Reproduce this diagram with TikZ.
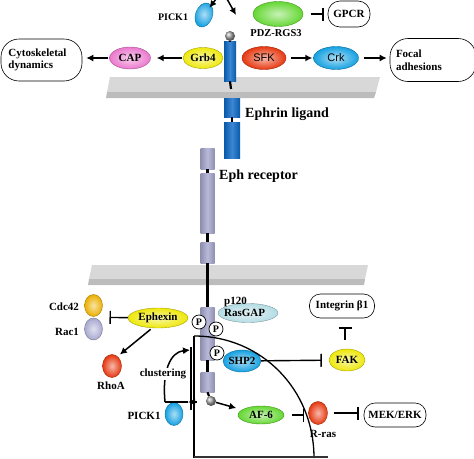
\documentclass[tikz,border=0pt]{standalone}
\usepackage{fontspec}
\setmainfont{Liberation Serif}
\newfontfamily\sansf{Liberation Sans}
\usetikzlibrary{shapes.geometric,arrows.meta,calc}
\definecolor{ligB}{RGB}{10,105,200}
\definecolor{lav}{RGB}{168,168,208}
\definecolor{yel}{RGB}{238,232,10}
\definecolor{pnk}{RGB}{235,120,205}
\definecolor{redp}{RGB}{230,55,15}
\definecolor{cyn}{RGB}{20,160,225}
\definecolor{grn}{RGB}{100,215,50}
\definecolor{rgap}{RGB}{180,220,228}
\definecolor{org}{RGB}{235,175,0}
\definecolor{memL}{RGB}{216,216,216}
\definecolor{memD}{RGB}{188,188,188}
\begin{document}
\begin{tikzpicture}[x=1pt,y=-1pt,
  txt/.style={font=\bfseries\fontsize{11}{12.5}\selectfont, inner sep=0pt},
  big/.style={font=\bfseries\fontsize{14}{16}\selectfont, inner sep=0pt},
  prot/.style={ellipse, inner sep=0pt, draw=#1!70!black, line width=0.4pt, inner color=#1!35!white, outer color=#1, font=\bfseries\fontsize{11}{12}\selectfont},
  sansprot/.style={prot=#1, font=\sansf\fontsize{11}{12}\selectfont},
  cyl/.style={rectangle, inner sep=0pt, left color=#1!85!black, right color=#1!85!black, middle color=#1!80!white},
  rbox/.style={draw, line width=0.6pt, rounded corners=#1, inner sep=0pt, font=\bfseries\fontsize{11}{12.5}\selectfont},
  pc/.style={circle, draw, line width=0.7pt, fill=white, minimum size=14, inner sep=0pt, font=\bfseries\fontsize{10}{10}\selectfont},
  act/.style={-{Latex[length=7pt,width=7pt]}, line width=1.5pt},
  inh/.style={-{Bar[width=13pt,line width=1.4pt]}, line width=1.4pt},
  stick/.style={line width=2.2pt}
]
\useasboundingbox (0,0) rectangle (474,458);
% membranes
\fill[memL] (110,77) -- (380,77) -- (376,92) -- (107,92) -- cycle;
\fill[memD] (107,92) -- (376,92) -- (374,98) -- (106,98) -- cycle;
\fill[memL] (92,265) -- (368,265) -- (365,279) -- (89,279) -- cycle;
\fill[memD] (89,279) -- (365,279) -- (364,285) -- (88,285) -- cycle;

% top row
\node[prot=grn, minimum width=50, minimum height=25] (pdz) at (278,14) {};
\node[txt, font=\bfseries\fontsize{10.5}{12}\selectfont] (pdzL) at (276,33) {PDZ-RGS3};
\node[rbox=12, minimum width=42, minimum height=26] (gpcr) at (349,14) {GPCR};
\draw[inh, shorten <=8pt, shorten >=4pt] (pdz) -- (gpcr);

\node[prot=cyn, minimum width=17, minimum height=25, rotate=-20] (pickA) at (204,15) {};
\node[txt, font=\bfseries\fontsize{10}{12}\selectfont] (pickAL) at (173,17) {PICK1};
\coordinate (inA) at (216,-1);
\coordinate (inB) at (227,-1);
\coordinate (tipB) at (236,15);
\draw[act, shorten >=-3pt] (inA) -- (pickA);
\draw[act] (inB) -- (tipB);

\node[circle, ball color=gray!70, minimum size=10, inner sep=0pt] (ballA) at (230,36) {};
\node[cyl=ligB, minimum width=12, minimum height=40] (lig1) at (230,61) {};
\coordinate (ligS) at (231,89);
\node[cyl=ligB, minimum width=16, minimum height=19] (lig2) at (232,107.5) {};
\node[cyl=ligB, minimum width=16, minimum height=36] (lig3) at (232,140) {};
\draw[stick] (ballA) -- (lig1);
\draw[stick] (lig1.south) -- (ligS);
\draw[stick] (lig2) -- (lig3);

\node[prot=yel, minimum width=40, minimum height=21] (grb4) at (203,58) {Grb4};
\node[prot=pnk, minimum width=41, minimum height=22] (cap) at (130,58) {CAP};
\node[rbox=18, minimum width=81, minimum height=42, text width=66, inner xsep=7.5, align=left] (cyto) at (41.5,60) {Cytoskeletal\\dynamics};
\node[sansprot=redp, minimum width=44, minimum height=23] (sfk) at (264,58) {SFK};
\node[sansprot=cyn, minimum width=45, minimum height=23] (crk) at (336,58) {Crk};
\node[rbox=18, minimum width=86, minimum height=43, text width=74, inner xsep=6, align=left] (focal) at (433,60) {Focal\\adhesions};
\draw[act, shorten <=1pt, shorten >=6pt] (grb4) -- (cap);
\draw[act, shorten <=1pt, shorten >=4pt] (cap) -- (cap -| cyto.east);
\draw[act, shorten <=5pt, shorten >=1pt] (sfk) -- (crk);
\draw[act, shorten <=5pt, shorten >=3pt] (crk) -- (crk -| focal.west);

\node[big, anchor=west] (ephrinL) at (245,114) {Ephrin ligand};
\node[big, anchor=west] (ephL) at (219,176) {Eph receptor};

% receptor
\node[cyl=lav, minimum width=14, minimum height=21] (rec1) at (207.5,158.5) {};
\node[cyl=lav, minimum width=14, minimum height=60] (rec2) at (207.5,203) {};
\node[cyl=lav, minimum width=14, minimum height=21] (rec3) at (207.5,252.5) {};
\node[cyl=lav, minimum width=14, minimum height=53] (rec4) at (207.5,333.5) {};
\node[cyl=lav, minimum width=14, minimum height=20] (rec5) at (207.5,382) {};
\node[circle, ball color=gray!70, minimum size=10, inner sep=0pt] (ball2) at (211,401) {};
\draw[stick] (rec1) -- (rec2);
\draw[stick] (rec2) -- (rec3);
\draw[stick] (rec3) -- (rec4);
\draw[stick] (rec4) -- (rec5);
\draw[stick] (rec5.south) -- (ball2);

% lower nodes
\node[prot=rgap, minimum width=60, minimum height=19] (rasgap) at (248,313) {};
\node[txt, anchor=west, align=left] (rasgapL) at (224,307) {p120\\RasGAP};
\node[prot=cyn, minimum width=36, minimum height=22] (shp2) at (242,361) {SHP2};
\node[prot=yel, minimum width=36, minimum height=22] (fak) at (347,360) {FAK};
\node[rbox=11, minimum width=65, minimum height=24] (integ) at (342,306) {Integrin β1};
\node[prot=grn, minimum width=46, minimum height=18] (af6) at (261,415) {AF-6};
\node[prot=redp, minimum width=19, minimum height=23] (rras) at (318,413) {};
\node[txt] (rrasL) at (323,434) {R-ras};
\node[rbox=11, minimum width=62, minimum height=24] (mek) at (395,415) {MEK/ERK};

\node[prot=org, minimum width=18, minimum height=22] (cdc42) at (93.5,305.5) {};
\node[txt] (cdc42L) at (64,307) {Cdc42};
\node[prot=lav, minimum width=18, minimum height=22] (rac1) at (93.5,329) {};
\node[txt] (rac1L) at (67,332) {Rac1};
\node[prot=yel, minimum width=60, minimum height=20] (ephexin) at (158,318) {Ephexin};
\node[prot=redp, minimum width=19, minimum height=23] (rhoa) at (112,366) {};
\node[txt] (rhoaL) at (111,386) {RhoA};
\node[prot=cyn, minimum width=18, minimum height=23] (pickB) at (174,414) {};
\node[txt] (pickBL) at (144,416) {PICK1};

% quarter region
\draw[line width=1.3pt] (194,336) .. controls (262,336) and (314,390) .. (314,458);
\draw[line width=1.3pt] (194,336) -- (194,458);
\draw[line width=2.5pt, black!80] (194,457) -- (328,457);

% phospho sites
\node[pc] (p1) at (199,322) {P};
\node[pc] (p2) at (216,329) {P};
\node[pc] (p3) at (217,353) {P};

% connectors lower
\draw[inh, shorten >=7pt] (shp2) -- (fak);
\draw[inh, shorten <=9pt, shorten >=9pt] (fak.north -| 345,0) -- (integ.south -| 345,0);
\draw[inh, shorten <=8pt, shorten >=4pt] (af6) -- (af6 -| rras.west);
\draw[inh, shorten <=6pt, shorten >=5pt] (rras.east) -- (rras.east -| mek.west);
\draw[inh, shorten >=16pt] (ephexin) -- ($(cdc42)!.5!(rac1)$);
\draw[act, shorten <=2pt, shorten >=3pt] (ephexin.240) -- (rhoa.60);
\draw[act, shorten >=6pt] (ball2) -- (af6);

% clustering
\coordinate (cl0) at (165,402);
\coordinate (brT) at (191,347);
\coordinate (brB) at (191,410);
\coordinate (brR) at (197,402);
\coordinate (brM) at (188,402);
\coordinate (clE) at (190,350);
\draw[line width=1.3pt] (brT) -- (brB);
\draw[line width=1.3pt] (cl0) -- (brM);
\draw[act] (brR) -- (brM);
\draw[act] (cl0) .. controls (162,372) and (170,352) .. (clE);
\node[txt, fill=white, inner sep=1pt] (clust) at (163,374) {clustering};
\end{tikzpicture}
\end{document}
